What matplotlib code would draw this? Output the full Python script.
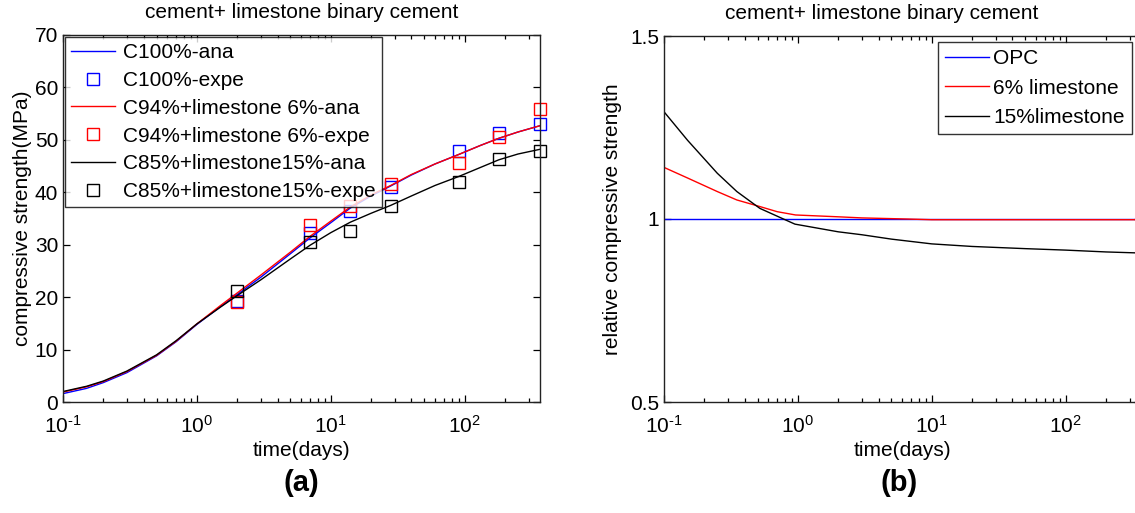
import matplotlib
matplotlib.use("Agg")
import matplotlib.pyplot as plt
from matplotlib.ticker import LogLocator, NullFormatter, FixedLocator, FuncFormatter
import math

plt.rcParams['font.family'] = ['Liberation Sans', 'DejaVu Sans']
plt.rcParams['mathtext.fontset'] = 'custom'
plt.rcParams['mathtext.rm'] = 'Liberation Sans'
plt.rcParams['mathtext.it'] = 'Liberation Sans:italic'
plt.rcParams['mathtext.bf'] = 'Liberation Sans:bold'

# ---- (a) compressive strength: analytical curves ----
t_ana = [0.1, 0.15, 0.2, 0.3, 0.5, 0.7, 1, 1.5, 2, 3, 5, 7, 10, 14, 20, 28,
         40, 60, 90, 130, 180, 250, 365]
c100_ana = [1.6, 2.6, 3.7, 5.6, 8.8, 11.5, 14.8, 18.2, 20.5, 23.8, 28.3, 31.3,
            34.2, 37.0, 39.3, 41.2, 43.3, 45.4, 47.2, 48.9, 50.3, 51.5, 52.7]
c94_ana = [1.9, 2.9, 3.9, 5.8, 8.9, 11.6, 14.9, 18.4, 20.8, 24.2, 28.6, 31.6,
           34.5, 37.2, 39.5, 41.3, 43.4, 45.4, 47.2, 48.9, 50.3, 51.5, 52.7]
c85_ana = [2.0, 3.0, 4.0, 5.9, 9.0, 11.7, 14.9, 18.1, 20.3, 23.3, 27.3, 29.9,
           32.3, 34.3, 36.0, 37.5, 39.3, 41.3, 43.0, 44.7, 46.2, 47.3, 48.2]

# ---- (a) experimental results ----
t_exp = [2, 7, 14, 28, 90, 180, 365]
c100_exp = [19.3, 32.3, 36.4, 41.1, 47.9, 51.4, 53.0]
c94_exp = [19.0, 33.8, 37.3, 41.6, 45.5, 50.5, 55.8]
c85_exp = [21.2, 30.6, 32.7, 37.4, 41.9, 46.3, 47.9]

labels_a = ["C100%-ana", "C100%-expe", "C94%+limestone 6%-ana",
            "C94%+limestone 6%-expe", "C85%+limestone15%-ana",
            "C85%+limestone15%-expe"]

# ---- (b) strength relative to OPC ----
t_opc = [0.1, 365]
rel_opc = [1.0, 1.0]
t_ls6 = [0.1, 0.15, 0.25, 0.35, 0.52, 0.7, 0.96, 2, 3, 6.5, 10, 100, 365]
rel_ls6 = [1.141, 1.112, 1.075, 1.052, 1.034, 1.02, 1.011, 1.006, 1.003, 1.0,
           0.998, 0.998, 0.998]
t_ls15 = [0.1, 0.15, 0.25, 0.35, 0.52, 0.78, 0.95, 2, 3, 5, 10, 20, 50, 100,
          200, 365]
rel_ls15 = [1.293, 1.215, 1.125, 1.075, 1.029, 1.0, 0.986, 0.965, 0.957, 0.945,
            0.932, 0.925, 0.919, 0.915, 0.91, 0.907]
labels_b = ["OPC", "6% limestone", "15%limestone"]

title = "cement+ limestone binary cement"
W, H = 1135, 513
FS = 15

fig = plt.figure(figsize=(W / 100, H / 100), dpi=100)
fig.patch.set_facecolor("white")

def px_axes(left, top, right, bottom):
    return fig.add_axes([left / W, 1 - bottom / H, (right - left) / W, (bottom - top) / H])

def decade_label(v, pos):
    e = int(round(math.log10(v)))
    if e < 0:
        return r"$\mathdefault{10^{\text{-}%d}}$" % (-e)
    return r"$\mathdefault{10^{%d}}$" % e

def style_axes(ax):
    ax.set_xscale("log")
    ax.set_xlim(0.1, 365)
    ax.xaxis.set_major_locator(LogLocator(base=10, numticks=10))
    ax.xaxis.set_major_formatter(FuncFormatter(decade_label))
    ax.xaxis.set_minor_locator(LogLocator(base=10, subs=range(2, 10), numticks=20))
    ax.xaxis.set_minor_formatter(NullFormatter())
    ax.tick_params(which="both", direction="in", top=True, right=True,
                   labelsize=FS, width=0.9, colors="black")
    ax.tick_params(which="major", length=5)
    ax.tick_params(which="minor", length=3)
    ax.tick_params(axis="x", pad=9)
    for s in ax.spines.values():
        s.set_linewidth(1.0)
        s.set_color("#222222")
    ax.set_xlabel("time(days)", fontsize=FS, labelpad=3)

# panel (a)
ax1 = px_axes(63, 35, 540, 402)
ax1.plot(t_ana, c100_ana, color="#0000ff", lw=1.0, label=labels_a[0])
ax1.plot(t_exp, c100_exp, ls="none", marker="s", ms=8, mfc="none", mec="#0000ff",
         mew=1.0, clip_on=False, label=labels_a[1])
ax1.plot(t_ana, c94_ana, color="#ff0000", lw=1.0, label=labels_a[2])
ax1.plot(t_exp, c94_exp, ls="none", marker="s", ms=8, mfc="none", mec="#ff0000",
         mew=1.0, clip_on=False, label=labels_a[3])
ax1.plot(t_ana, c85_ana, color="black", lw=1.0, label=labels_a[4])
ax1.plot(t_exp, c85_exp, ls="none", marker="s", ms=8, mfc="none", mec="black",
         mew=1.0, clip_on=False, label=labels_a[5])
ax1.set_ylim(0, 70)
ax1.yaxis.set_major_locator(FixedLocator(range(0, 71, 10)))
style_axes(ax1)
ax1.set_title(title, fontsize=FS, pad=12)
ax1.set_ylabel("compressive strength(MPa)", fontsize=FS, labelpad=2)
leg1 = ax1.legend(loc="upper left", bbox_to_anchor=(65 / W, 1 - 37 / H),
                  bbox_transform=fig.transFigure, borderaxespad=0, fontsize=FS,
                  frameon=True, fancybox=False, edgecolor="black",
                  handlelength=2.1, handletextpad=0.4, labelspacing=0.42,
                  borderpad=0.3)
leg1.get_frame().set_linewidth(1.0)

# panel (b)
ax2 = px_axes(664, 36, 1141, 402)
ax2.plot(t_opc, rel_opc, color="#0000ff", lw=1.0, label=labels_b[0])
ax2.plot(t_ls6, rel_ls6, color="#ff0000", lw=1.0, label=labels_b[1])
ax2.plot(t_ls15, rel_ls15, color="black", lw=1.0, label=labels_b[2])
ax2.set_ylim(0.5, 1.5)
ax2.yaxis.set_major_locator(FixedLocator([0.5, 1.0, 1.5]))
ax2.set_yticklabels(["0.5", "1", "1.5"])
style_axes(ax2)
ax2.set_title(title, fontsize=FS, pad=12, x=(882 - 664) / (1141 - 664))
ax2.set_ylabel("relative compressive strength", fontsize=FS, labelpad=6)
leg2 = ax2.legend(loc="upper right", bbox_to_anchor=(1132 / W, 1 - 42 / H),
                  bbox_transform=fig.transFigure, borderaxespad=0, fontsize=FS,
                  frameon=True, fancybox=False, edgecolor="black",
                  handlelength=2.1, handletextpad=0.2, labelspacing=0.5,
                  borderpad=0.35)
leg2.get_frame().set_linewidth(1.0)

# panel captions
fig.text(301 / W, 1 - 483 / H, "(a)", fontsize=21, fontweight="bold",
         ha="center", va="center")
fig.text(899 / W, 1 - 483 / H, "(b)", fontsize=21, fontweight="bold",
         ha="center", va="center")

fig.savefig("out.png", dpi=100, facecolor="white")
